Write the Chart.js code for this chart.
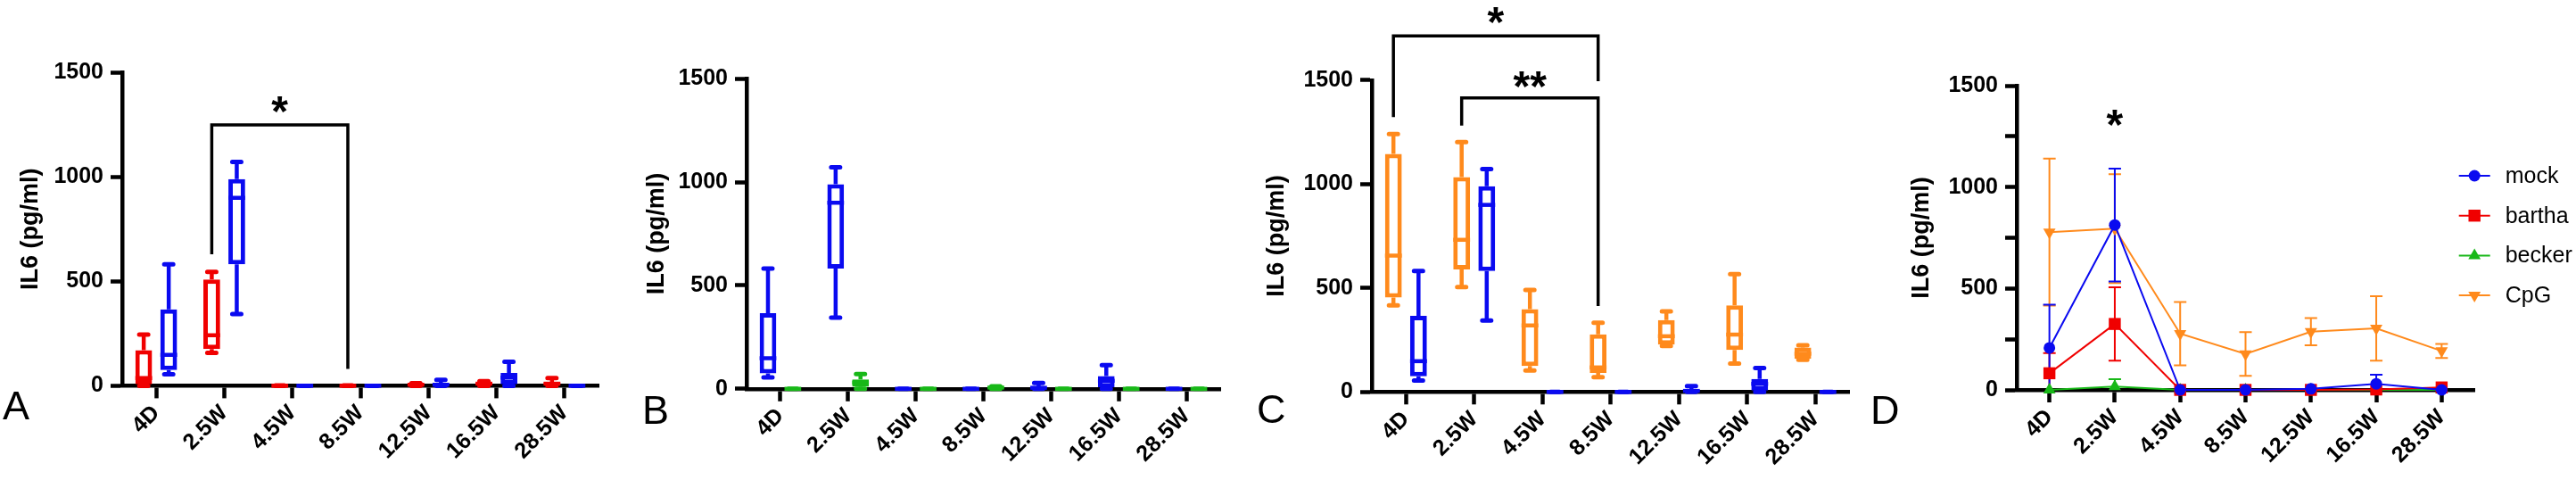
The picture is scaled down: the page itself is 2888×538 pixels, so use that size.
<!DOCTYPE html>
<html>
<head>
<meta charset="utf-8">
<script src="https://cdn.jsdelivr.net/npm/chart.js@4.4.0/dist/chart.umd.min.js"></script>
<style>
  html, body { margin: 0; padding: 0; background: #fff; }
  body { width: 2888px; height: 538px; position: relative; overflow: hidden; }
  .panel { position: absolute; top: 0; height: 538px; }
</style>
</head>
<body>
<div class="panel" style="left:0px;width:700px"><canvas id="chartA"></canvas></div>
<div class="panel" style="left:710px;width:690px"><canvas id="chartB"></canvas></div>
<div class="panel" style="left:1400px;width:690px"><canvas id="chartC"></canvas></div>
<div class="panel" style="left:2090px;width:798px"><canvas id="chartD"></canvas></div>
<script>
// categories
const timepoints = ['4D', '2.5W', '4.5W', '8.5W', '12.5W', '16.5W', '28.5W'];

// box plot summaries per time point (min, Q1, median, Q3, max), IL6 pg/ml
const mockMin = [55, 344, 0, 0, 0, 0, 0];
const mockQ1  = [75, 582, 0, 0, 0, 7, 0];
const mockMed = [148, 900, 0, 0, 5, 39, 0];
const mockQ3  = [366, 990, 0, 0, 10, 62, 0];
const mockMax = [582, 1072, 0, 0, 28, 115, 0];

const barthaMin = [0, 158, 0, 0, 0, 0, 0];
const barthaQ1  = [7, 176, 0, 0, 2, 4, 3];
const barthaMed = [37, 242, 0, 0, 5, 10, 10];
const barthaQ3  = [170, 509, 0, 0, 9, 16, 18];
const barthaMax = [245, 545, 2, 2, 12, 22, 37];

const beckerMin = [0, 0, 0, 0, 0, 0, 0];
const beckerQ1  = [0, 10, 0, 2, 0, 0, 0];
const beckerMed = [0, 30, 0, 6, 0, 0, 0];
const beckerQ3  = [0, 46, 0, 10, 0, 0, 0];
const beckerMax = [0, 71, 0, 12, 0, 0, 0];

const cpgMin = [417, 505, 103, 71, 221, 137, 155];
const cpgQ1  = [454, 589, 125, 91, 228, 202, 159];
const cpgMed = [656, 732, 320, 118, 268, 276, 184];
const cpgQ3  = [1145, 1034, 398, 277, 346, 417, 214];
const cpgMax = [1241, 1202, 491, 333, 388, 567, 224];

// panel D: mean and SD
const mockMean   = [207, 813, 0, 0, 5, 30, 0];
const mockSd     = [213, 278, 0, 0, 0, 45, 0];
const barthaMean = [82, 325, 0, 0, 0, 2, 12];
const barthaSd   = [99, 181, 0, 0, 0, 0, 0];
const beckerMean = [0, 17, 0, 0, 0, 0, 0];
const beckerSd   = [0, 36, 0, 0, 0, 0, 0];
const cpgMean    = [778, 795, 277, 177, 287, 303, 192];
const cpgSd      = [362, 268, 156, 108, 67, 159, 35];

const FONT = '"Liberation Sans", Arial, Helvetica, sans-serif';
const RED = '#f00000';
const BLUE = '#0a0af0';
const GREEN = '#18b818';
const ORANGE = '#ff8a1c';

function boxDataset(label, color, lo, q1, med, q3, hi) {
    return {
        label: label,
        data: q1.map((v, i) => [v, q3[i]]),
        whiskerLow: lo,
        median: med,
        whiskerHigh: hi,
        backgroundColor: '#fff',
        borderColor: color,
        borderWidth: 5,
        borderSkipped: false,
        categoryPercentage: 0.735,
        barPercentage: 0.67,
        clip: false
    };
}

function lineDataset(label, color, mean, sd, style, rotation, radius) {
    return {
        label: label,
        data: mean,
        sd: sd,
        borderColor: color,
        backgroundColor: color,
        borderWidth: 2,
        pointStyle: style,
        rotation: rotation,
        pointRotation: rotation,
        pointRadius: radius,
        pointBorderWidth: 0,
        tension: 0,
        clip: false
    };
}

// whiskers, caps and medians for the box datasets
const boxWhiskers = {
    id: 'boxWhiskers',
    afterDatasetsDraw(chart) {
        const ctx = chart.ctx;
        const y = chart.scales.y;
        chart.data.datasets.forEach((ds, i) => {
            if (!ds.median) return;
            chart.getDatasetMeta(i).data.forEach((bar, j) => {
                const x = bar.x;
                const half = bar.width / 2;
                const pLo = y.getPixelForValue(ds.whiskerLow[j]);
                const pHi = y.getPixelForValue(ds.whiskerHigh[j]);
                const pQ1 = y.getPixelForValue(ds.data[j][0]);
                const pQ3 = y.getPixelForValue(ds.data[j][1]);
                const pMed = y.getPixelForValue(ds.median[j]);
                ctx.save();
                ctx.strokeStyle = ds.borderColor;
                ctx.lineWidth = 4.5;
                ctx.beginPath();
                ctx.moveTo(x, pQ3); ctx.lineTo(x, pHi);
                ctx.moveTo(x, pQ1); ctx.lineTo(x, pLo);
                ctx.stroke();
                ctx.lineCap = 'round';
                ctx.lineWidth = 5;
                ctx.beginPath();
                ctx.moveTo(x - 5, pHi); ctx.lineTo(x + 5, pHi);
                ctx.moveTo(x - 5, pLo); ctx.lineTo(x + 5, pLo);
                ctx.stroke();
                ctx.lineCap = 'butt';
                ctx.lineWidth = 4.5;
                ctx.beginPath();
                ctx.moveTo(x - half, pMed); ctx.lineTo(x + half, pMed);
                ctx.stroke();
                ctx.restore();
            });
        });
    }
};

// SD error bars for panel D
const errorBars = {
    id: 'errorBars',
    beforeDatasetsDraw(chart) {
        const ctx = chart.ctx;
        const y = chart.scales.y;
        for (let i = chart.data.datasets.length - 1; i >= 0; i--) {
            const ds = chart.data.datasets[i];
            if (!ds.sd) continue;
            chart.getDatasetMeta(i).data.forEach((pt, j) => {
                const m = ds.data[j], s = ds.sd[j];
                if (!s) return;
                const top = y.getPixelForValue(m + s);
                const low = m - s;
                const bottom = y.getPixelForValue(Math.max(low, 0));
                ctx.save();
                ctx.strokeStyle = ds.borderColor;
                ctx.lineWidth = 2;
                ctx.beginPath();
                ctx.moveTo(pt.x, bottom); ctx.lineTo(pt.x, top);
                ctx.moveTo(pt.x - 7, top); ctx.lineTo(pt.x + 7, top);
                if (low > 0) { ctx.moveTo(pt.x - 7, bottom); ctx.lineTo(pt.x + 7, bottom); }
                ctx.stroke();
                ctx.restore();
            });
        }
    }
};

function drawStar(ctx, text, x, yCenter) {
    ctx.font = 'bold 48px ' + FONT;
    ctx.textAlign = 'center';
    ctx.textBaseline = 'alphabetic';
    ctx.fillText(text, x, yCenter + 27);
}

// significance brackets and stars
const sigMarks = {
    id: 'sigMarks',
    afterDraw(chart, args, opts) {
        const ctx = chart.ctx;
        const x = chart.scales.x, y = chart.scales.y;
        ctx.save();
        ctx.strokeStyle = '#000';
        ctx.fillStyle = '#000';
        ctx.lineWidth = 3.5;
        (opts.brackets || []).forEach(b => {
            const pts = chart.getDatasetMeta(b.dataset).data;
            const x1 = pts[b.from].x, x2 = pts[b.to].x;
            const yTop = y.getPixelForValue(b.top);
            ctx.beginPath();
            ctx.moveTo(x1, y.getPixelForValue(b.leftEnd));
            ctx.lineTo(x1, yTop);
            ctx.lineTo(x2, yTop);
            ctx.lineTo(x2, y.getPixelForValue(b.rightEnd));
            ctx.stroke();
            drawStar(ctx, b.label, (x1 + x2) / 2, y.getPixelForValue(b.labelAt));
        });
        (opts.stars || []).forEach(s => {
            drawStar(ctx, s.label, x.getPixelForValue(s.index), y.getPixelForValue(s.labelAt));
        });
        ctx.restore();
    }
};

// big panel letter
const panelLetter = {
    id: 'panelLetter',
    afterDraw(chart, args, opts) {
        if (!opts.text) return;
        const ctx = chart.ctx;
        ctx.save();
        ctx.fillStyle = '#000';
        ctx.font = '45px ' + FONT;
        ctx.textAlign = 'left';
        ctx.textBaseline = 'alphabetic';
        ctx.fillText(opts.text, opts.x, opts.y);
        ctx.restore();
    }
};

function drawMarker(ctx, style, rot, x, y, r, color) {
    ctx.save();
    ctx.fillStyle = color;
    ctx.beginPath();
    if (style === 'circle') {
        ctx.arc(x, y, r, 0, Math.PI * 2);
    } else if (style === 'rect') {
        const s = r / Math.SQRT2;
        ctx.rect(x - s, y - s, 2 * s, 2 * s);
    } else {
        const d = rot === 180 ? -1 : 1;
        ctx.moveTo(x, y - d * r);
        ctx.lineTo(x + r * 0.866, y + d * r / 2);
        ctx.lineTo(x - r * 0.866, y + d * r / 2);
        ctx.closePath();
    }
    ctx.fill();
    ctx.restore();
}

// legend on the right of panel D
const seriesLegend = {
    id: 'seriesLegend',
    afterDraw(chart, args, opts) {
        if (!opts.show) return;
        const ctx = chart.ctx;
        const area = chart.chartArea;
        chart.data.datasets.forEach((ds, i) => {
            const y = opts.top + i * opts.gap;
            const x0 = area.right + opts.left;
            ctx.save();
            ctx.strokeStyle = ds.borderColor;
            ctx.lineWidth = 2;
            ctx.beginPath();
            ctx.moveTo(x0, y); ctx.lineTo(x0 + 35, y);
            ctx.stroke();
            drawMarker(ctx, ds.pointStyle, ds.pointRotation, x0 + 17.5, y, ds.pointRadius, ds.borderColor);
            ctx.fillStyle = '#000';
            ctx.font = '25px ' + FONT;
            ctx.textAlign = 'left';
            ctx.textBaseline = 'middle';
            ctx.fillText(ds.label, x0 + 52, y + 1);
            ctx.restore();
        });
    }
};

function scalesFor(p) {
    const tickFont = { family: FONT, size: 25, weight: 'bold' };
    return {
        x: {
            type: 'category',
            labels: timepoints,
            offset: true,
            grid: { display: true, drawOnChartArea: false, drawTicks: true, tickLength: 14, tickWidth: 4.5, tickColor: '#000', offset: false },
            border: { display: true, width: 4.5, color: '#000' },
            ticks: { color: '#000', font: tickFont, maxRotation: 45, minRotation: 45, autoSkip: false, padding: 2 },
            afterFit: s => { s.height = p.xHeight; }
        },
        y: {
            min: 0,
            max: 1500,
            grid: { display: true, drawOnChartArea: false, drawTicks: true, tickLength: 13, tickWidth: 4.5, tickColor: '#000' },
            border: { display: true, width: 4.5, color: '#000' },
            ticks: { stepSize: p.step, color: '#000', font: tickFont, padding: 8,
                     callback: v => (v % 500 === 0 ? v : '') },
            title: { display: true, text: 'IL6 (pg/ml)', color: '#000',
                     font: { family: FONT, size: 27, weight: 'bold', lineHeight: 1 },
                     padding: { top: p.titlePad, bottom: 0 } },
            afterFit: s => { s.width = p.yWidth; }
        }
    };
}

function makeChart(id, type, datasets, p, extra) {
    return new Chart(document.getElementById(id), {
        type: type,
        data: { labels: timepoints, datasets: datasets },
        options: {
            responsive: true,
            maintainAspectRatio: false,
            animation: false,
            events: [],
            layout: { padding: { left: 0, right: p.padRight, top: p.padTop, bottom: 0 } },
            scales: scalesFor(p),
            plugins: Object.assign({ legend: { display: false }, tooltip: { enabled: false } }, extra)
        },
        plugins: [boxWhiskers, errorBars, sigMarks, panelLetter, seriesLegend]
    });
}

// A: bartha vs mock
makeChart('chartA', 'bar', [
    boxDataset('bartha', RED, barthaMin, barthaQ1, barthaMed, barthaQ3, barthaMax),
    boxDataset('mock', BLUE, mockMin, mockQ1, mockMed, mockQ3, mockMax)
], { yWidth: 137, xHeight: 105.6, padTop: 81.3, padRight: 29, titlePad: 21.5, step: 500 }, {
    sigMarks: { brackets: [{ dataset: 0, from: 1, to: 3, top: 1249, leftEnd: 630, rightEnd: 81, label: '*', labelAt: 1360 }] },
    panelLetter: { text: 'A', x: 3, y: 470 }
});

// B: mock vs becker
makeChart('chartB', 'bar', [
    boxDataset('mock', BLUE, mockMin, mockQ1, mockMed, mockQ3, mockMax),
    boxDataset('becker', GREEN, beckerMin, beckerQ1, beckerMed, beckerQ3, beckerMax)
], { yWidth: 127, xHeight: 102.2, padTop: 88.2, padRight: 32, titlePad: 13.5, step: 500 }, {
    panelLetter: { text: 'B', x: 10, y: 475 }
});

// C: CpG vs mock
makeChart('chartC', 'bar', [
    boxDataset('CpG', ORANGE, cpgMin, cpgQ1, cpgMed, cpgQ3, cpgMax),
    boxDataset('mock', BLUE, mockMin, mockQ1, mockMed, mockQ3, mockMax)
], { yWidth: 138, xHeight: 98.7, padTop: 89.9, padRight: 16.5, titlePad: 18.5, step: 500 }, {
    sigMarks: { brackets: [
        { dataset: 0, from: 0, to: 3, top: 1713, leftEnd: 1322, rightEnd: 1495, label: '*', labelAt: 1825 },
        { dataset: 0, from: 1, to: 3, top: 1415, leftEnd: 1282, rightEnd: 413, label: '**', labelAt: 1515 }
    ] },
    panelLetter: { text: 'C', x: 9, y: 474 }
});

// D: means with SD
makeChart('chartD', 'line', [
    lineDataset('mock', BLUE, mockMean, mockSd, 'circle', 0, 6.5),
    lineDataset('bartha', RED, barthaMean, barthaSd, 'rect', 0, 9.5),
    lineDataset('becker', GREEN, beckerMean, beckerSd, 'triangle', 0, 8),
    lineDataset('CpG', ORANGE, cpgMean, cpgSd, 'triangle', 180, 8)
], { yWidth: 171, xHeight: 101, padTop: 96, padRight: 114, titlePad: 51.5, step: 250 }, {
    sigMarks: { stars: [{ index: 1, label: '*', labelAt: 1355 }] },
    panelLetter: { text: 'D', x: 7, y: 475 },
    seriesLegend: { show: true, top: 197, gap: 44.7, left: -17.3 }
});
</script>
</body>
</html>
